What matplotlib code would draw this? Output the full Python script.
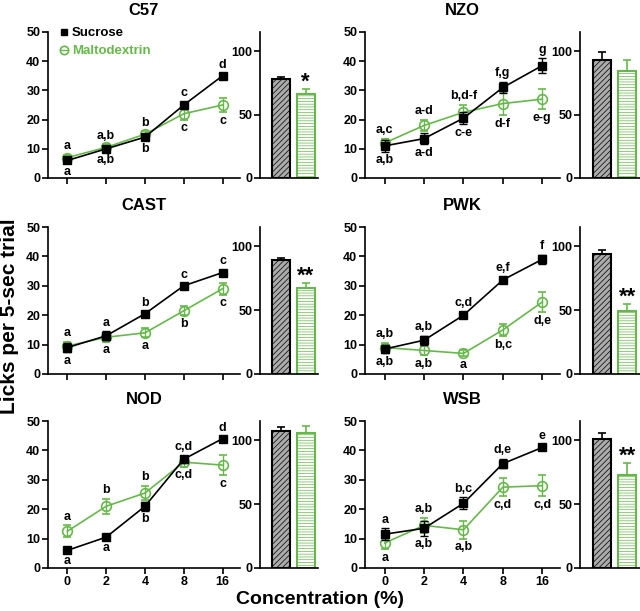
import matplotlib
matplotlib.use("Agg")
import matplotlib.pyplot as plt
from matplotlib.lines import Line2D

plt.rcParams['font.family'] = ['Liberation Sans', 'DejaVu Sans']
plt.rcParams['font.weight'] = 'bold'
plt.rcParams['hatch.linewidth'] = 0.5

GREEN = '#67b84b'

conc = ['0', '2', '4', '8', '16']
strains = ['C57', 'NZO', 'CAST', 'PWK', 'NOD', 'WSB']

# licks per 5-sec trial, mean and SEM
suc = {
    'C57':  [6, 10, 14, 25, 35],
    'NZO':  [11, 13.5, 20.5, 31, 38.5],
    'CAST': [9, 13, 20.5, 30, 34.5],
    'PWK':  [8.5, 11.5, 20, 32, 39],
    'NOD':  [6, 10.5, 21, 37, 44],
    'WSB':  [11.5, 13.5, 22, 35.5, 41],
}
suc_err = {
    'C57':  [0.8, 0.8, 1, 1, 0.8],
    'NZO':  [2, 2, 2, 2, 2.5],
    'CAST': [1.5, 1.5, 0.8, 0.8, 0.8],
    'PWK':  [1.5, 1.5, 1, 1, 1.5],
    'NOD':  [0.8, 0.8, 1.5, 1.2, 0.8],
    'WSB':  [2, 2.5, 2, 1.5, 1],
}
malt = {
    'C57':  [7, 10.5, 15, 22, 25],
    'NZO':  [12, 18, 22.5, 25.5, 27],
    'CAST': [9.5, 12.5, 14, 21.5, 29],
    'PWK':  [9, 8, 7, 15, 24.5],
    'NOD':  [12.5, 21, 25.5, 36, 35],
    'WSB':  [8.5, 14.5, 13, 27.5, 28],
}
malt_err = {
    'C57':  [1, 1, 1, 2, 2.5],
    'NZO':  [1.5, 2, 2.5, 4, 3.5],
    'CAST': [1.5, 1.5, 1.5, 1.5, 2],
    'PWK':  [1.5, 1.5, 1, 2, 3.5],
    'NOD':  [2, 2.5, 2.5, 1.5, 3.5],
    'WSB':  [2, 2.5, 3, 3, 3.5],
}
# letters above / below each concentration
above = {
    'C57':  ['a', 'a,b', 'b', 'c', 'd'],
    'NZO':  ['a,c', 'a-d', 'b,d-f', 'f,g', 'g'],
    'CAST': ['a', 'a', 'b', 'c', 'c'],
    'PWK':  ['a,b', 'a,b', 'c,d', 'e,f', 'f'],
    'NOD':  ['a', 'b', 'b', 'c,d', 'd'],
    'WSB':  ['a', 'a,b', 'b,c', 'd,e', 'e'],
}
below = {
    'C57':  ['a', 'a,b', 'b', 'c', 'c'],
    'NZO':  ['a,b', 'a-d', 'c-e', 'd-f', 'e-g'],
    'CAST': ['a', 'a', 'a', 'b', 'c'],
    'PWK':  ['a,b', 'a,b', 'a', 'b,c', 'd,e'],
    'NOD':  ['a', 'a', 'b', 'c,d', 'c'],
    'WSB':  ['a', 'a,b', 'a,b', 'c,d', 'c,d'],
}
# preference bars (%)
bar_suc = {'C57': 78, 'NZO': 93, 'CAST': 89, 'PWK': 94, 'NOD': 107, 'WSB': 101}
bar_suc_err = {'C57': 1.5, 'NZO': 6, 'CAST': 2, 'PWK': 3, 'NOD': 3, 'WSB': 5}
bar_malt = {'C57': 66, 'NZO': 84, 'CAST': 67, 'PWK': 49, 'NOD': 106, 'WSB': 73}
bar_malt_err = {'C57': 4, 'NZO': 9, 'CAST': 4, 'PWK': 6, 'NOD': 5, 'WSB': 9}
stars = {'C57': '*', 'NZO': '', 'CAST': '**', 'PWK': '**', 'NOD': '', 'WSB': '**'}

fig = plt.figure(figsize=(6.4, 6.11), dpi=100)

W, H = 640, 611
rows = [(32, 178), (227, 374), (421, 568)]
cols = [((48, 240), (260, 318)), ((365, 560), (580, 640))]


def px_axes(x0, x1, y0, y1):
    return fig.add_axes([x0 / W, 1 - y1 / H, (x1 - x0) / W, (y1 - y0) / H])


def style(ax):
    for s in ['top', 'right']:
        ax.spines[s].set_visible(False)
    for s in ['left', 'bottom']:
        ax.spines[s].set_linewidth(1.2)
    ax.tick_params(width=1.2, length=4, labelsize=9, pad=1.5)


for i, name in enumerate(strains):
    r, c = divmod(i, 2)
    ytop, ybot = rows[r]
    (lx0, lx1), (bx0, bx1) = cols[c]

    ax = px_axes(lx0, lx1, ytop, ybot)
    style(ax)
    x = list(range(len(conc)))
    ax.errorbar(x, malt[name], yerr=malt_err[name], color=GREEN, lw=1.2,
                marker='o', ms=7, mfc='none', mec=GREEN, mew=1.2,
                capsize=3, elinewidth=1.0, capthick=1.0, zorder=2)
    ax.errorbar(x, suc[name], yerr=suc_err[name], color='black', lw=1.2,
                marker='s', ms=5.5, capsize=3, elinewidth=1.0, capthick=1.0,
                zorder=3)
    for j in x:
        hi = max(suc[name][j] + suc_err[name][j], malt[name][j] + malt_err[name][j])
        lo = min(suc[name][j] - suc_err[name][j], malt[name][j] - malt_err[name][j])
        ax.annotate(above[name][j], (j, hi), xytext=(0, 2), textcoords='offset points',
                    ha='center', va='bottom', fontsize=9, fontweight='bold')
        ax.annotate(below[name][j], (j, lo), xytext=(0, -2), textcoords='offset points',
                    ha='center', va='top', fontsize=9, fontweight='bold')
    ax.set_xlim(-0.5, 4.45)
    ax.set_ylim(0, 50)
    ax.set_yticks([0, 10, 20, 30, 40, 50])
    ax.set_xticks(x)
    if r == 2:
        ax.set_xticklabels(conc)
    else:
        ax.set_xticklabels([])
    ax.set_title(name, fontsize=12, fontweight='bold', pad=12)

    if name == 'C57':
        h1 = Line2D([], [], color='black', marker='s', ls='none', ms=5)
        h2 = Line2D([], [], color=GREEN, marker='o', ls='none', ms=6, mfc='none', mew=1.2)
        h3 = Line2D([], [], color=GREEN, marker='_', ls='none', ms=6, mew=1.0)
        leg = ax.legend([h1, (h2, h3)], ['Sucrose', 'Maltodextrin'], loc='upper left',
                        bbox_to_anchor=(0.02, 1.07), frameon=False, fontsize=9.5,
                        handletextpad=0.1, handlelength=1.0, labelspacing=0.45,
                        borderaxespad=0)
        leg.get_texts()[1].set_color(GREEN)

    bx = px_axes(bx0, bx1, ytop, ybot)
    style(bx)
    bx.bar([0], [bar_suc[name]], width=0.72, color='#ababab', edgecolor='black',
           hatch='//////', lw=1.5, zorder=2)
    bx.bar([1], [bar_malt[name]], width=0.72, color='white', edgecolor=GREEN,
           hatch='------', lw=1.5, zorder=2)
    bx.errorbar([0], [bar_suc[name]], yerr=[[0], [bar_suc_err[name]]], color='black',
                capsize=3, elinewidth=1.2, capthick=1.2, ls='none', zorder=1)
    bx.errorbar([1], [bar_malt[name]], yerr=[[0], [bar_malt_err[name]]], color=GREEN,
                capsize=3, elinewidth=1.2, capthick=1.2, ls='none', zorder=1)
    if stars[name]:
        bx.text(1, bar_malt[name] + bar_malt_err[name] - 3, stars[name], ha='center',
                va='bottom', fontsize=16, fontweight='bold')
    bx.set_xlim(-0.85, 1.5)
    bx.set_ylim(0, 115)
    bx.set_yticks([0, 50, 100])
    bx.set_xticks([])

fig.text(0.015, 0.483, 'Licks per 5-sec trial', rotation=90, ha='center', va='center',
         fontsize=15, fontweight='bold')
fig.text(0.5, 0.019, 'Concentration (%)', ha='center', va='center',
         fontsize=14, fontweight='bold')

fig.savefig('out.png', dpi=100)
